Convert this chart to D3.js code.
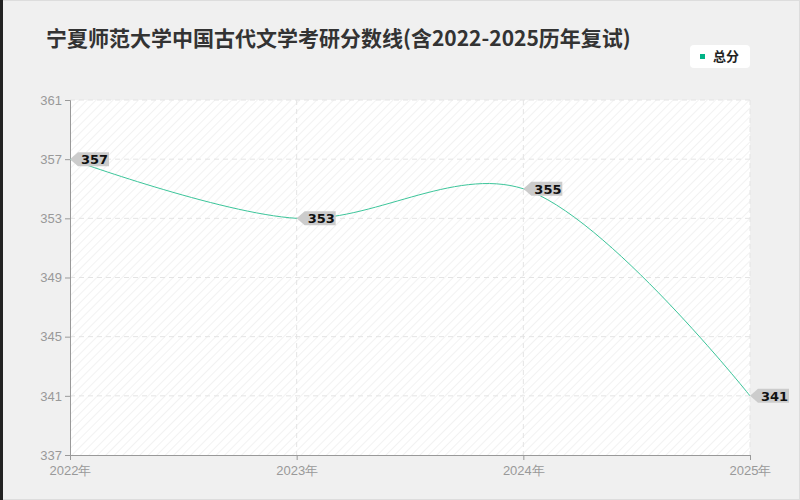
<!DOCTYPE html>
<html><head><meta charset="utf-8">
<script src="https://cdn.jsdelivr.net/npm/d3@7"></script>
<style>body{margin:0;background:#fff}</style>
</head><body><div id="chart"></div>
<script>
const years = ["2022年","2023年","2024年","2025年"];
const scores = [357, 353, 355, 341];
const yTicks = [337, 341, 345, 349, 353, 357, 361];

const W = 800, H = 500;
const margin = {top: 100, right: 50, bottom: 45, left: 70},
      width = W - margin.left - margin.right,
      height = H - margin.top - margin.bottom;

const root = d3.select("#chart").append("svg").attr("width", W).attr("height", H)
  .style("font-family", "'DejaVu Sans','Noto Sans CJK SC',sans-serif");

// background and frame
root.append("rect").attr("x", 0.5).attr("y", 0.5).attr("width", W - 1).attr("height", H - 1)
  .attr("fill", "#f0f0f0").attr("stroke", "#ddd");
root.append("rect").attr("x", 0).attr("y", 0).attr("width", 3).attr("height", H).attr("fill", "#222");

const defs = root.append("defs");
const pat = defs.append("pattern").attr("id", "hatch").attr("width", 6).attr("height", 6)
  .attr("patternUnits", "userSpaceOnUse").attr("patternTransform", "rotate(45)");
pat.append("rect").attr("width", 6).attr("height", 6).attr("fill", "#fff");
pat.append("line").attr("x1", 0).attr("y1", 0).attr("x2", 0).attr("y2", 6)
  .attr("stroke", "#f2f2f2").attr("stroke-width", 2);

root.append("text").attr("x", 46).attr("y", 46).attr("font-size", 21).attr("font-weight", "bold")
  .attr("font-family", "'Noto Sans CJK SC',sans-serif")
  .attr("fill", "#333").text("宁夏师范大学中国古代文学考研分数线(含2022-2025历年复试)");

// legend
const lg = root.append("g").attr("transform", "translate(690,45)");
lg.append("rect").attr("width", 60).attr("height", 23).attr("rx", 4).attr("fill", "#fff");
lg.append("rect").attr("x", 10).attr("y", 9).attr("width", 5).attr("height", 5).attr("fill", "#00b386");
lg.append("text").attr("x", 23).attr("y", 16).attr("font-size", 13).attr("font-weight", "bold")
  .attr("font-family", "'Noto Sans CJK SC',sans-serif").attr("fill", "#222").text("总分");

const svg = root.append("g").attr("transform", `translate(${margin.left},${margin.top})`);
svg.append("rect").attr("width", width).attr("height", height).attr("fill", "url(#hatch)");

const x = d3.scalePoint().domain(years).range([0, width]);
const y = d3.scaleLinear().domain([337, 361]).range([height, 0]);

// grid
svg.append("g").selectAll("line").data(yTicks.slice(1)).join("line")
  .attr("x1", 0).attr("x2", width).attr("y1", d => y(d)).attr("y2", d => y(d))
  .attr("stroke", "#e4e4e4").attr("stroke-dasharray", "5,4");
svg.append("g").selectAll("line").data(years.slice(1)).join("line")
  .attr("x1", d => x(d)).attr("x2", d => x(d)).attr("y1", 0).attr("y2", height)
  .attr("stroke", "#e4e4e4").attr("stroke-dasharray", "5,4");

const ax = svg.append("g").attr("transform", `translate(0,${height})`)
  .call(d3.axisBottom(x).tickSize(5));
const ay = svg.append("g").call(d3.axisLeft(y).tickValues(yTicks).tickSize(5).tickFormat(d3.format("d")));
[ax, ay].forEach(a => {
  a.selectAll("path,line").attr("stroke", "#999");
  a.selectAll("text").attr("fill", "#999").attr("font-size", 13).attr("font-family", null);
});
ax.selectAll("text").attr("dy", "0.9em");

const pts = years.map((d, i) => [x(d), y(scores[i])]);
svg.append("path").datum(pts).attr("fill", "none").attr("stroke", "#3cc59a").attr("stroke-width", 1)
  .attr("d", d3.line().curve(d3.curveCatmullRom.alpha(0.5)));

// value labels
const lab = svg.append("g").selectAll("g").data(pts).join("g")
  .attr("transform", d => `translate(${d[0]},${d[1]})`);
lab.append("path").attr("d", "M0,0 L8,-7 L39,-7 L39,7 L8,7 Z").attr("fill", "#ccc");
lab.append("text").attr("x", 11).attr("y", 5).attr("font-size", 13).attr("font-weight", "bold")
  .attr("fill", "#111").text((d, i) => scores[i]);
</script></body></html>
